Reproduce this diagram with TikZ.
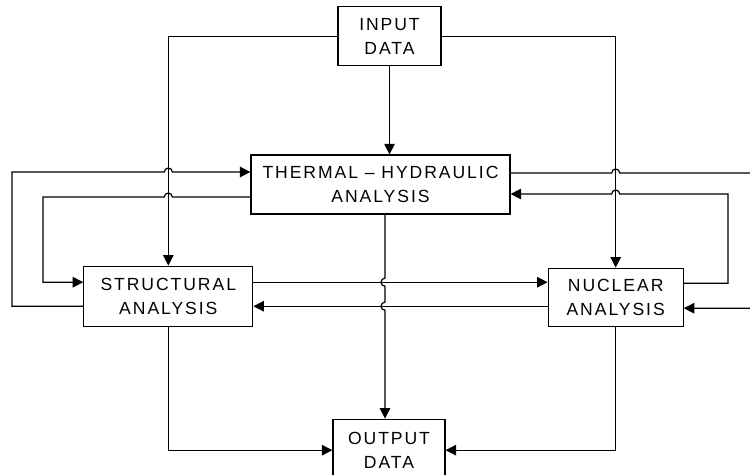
\documentclass[tikz,border=0pt]{standalone}
\usepackage{fontspec}
\usepackage{tikz}
\usetikzlibrary{positioning, arrows.meta, calc}
\newfontfamily\blockfont{Liberation Sans}[LetterSpace=11]

\begin{document}
\begin{tikzpicture}[
  x=0.02cm, y=0.02cm,
  node distance=1cm and 1cm,
  block/.style={
    rectangle, draw=black, line width=0.7pt,
    minimum height=1.18cm, inner sep=2pt,
    font=\blockfont\fontsize{10}{13.6}\selectfont, align=center
  },
  arrow/.style={-{Triangle[length=6pt, width=6pt]}, line width=0.7pt},
]
\useasboundingbox (0,0) rectangle (750,474);

% --- Middle: thermal-hydraulic ---
\node[block, minimum width=5.18cm] (thermal) at (380.5,289.5)
  {THERMAL \textendash{} HYDRAULIC\\ANALYSIS};

% --- Top: input ---
\node[block, minimum width=2.06cm, above=1.76cm of thermal, xshift=0.18cm] (input)
  {INPUT\\DATA};

% --- Row 2: structural and nuclear ---
\node[block, minimum width=3.38cm, minimum height=1.2cm,
      below left=1.02cm and -0.06cm of thermal] (struct)
  {STRUCTURAL\\ANALYSIS};
\node[block, minimum width=2.7cm, minimum height=1.16cm,
      below right=1.06cm and 0.74cm of thermal] (nuclear)
  {NUCLEAR\\ANALYSIS};

% --- Bottom: output ---
\node[block, minimum width=2.24cm, minimum height=1.24cm,
      below=4.08cm of thermal, xshift=0.17cm] (output)
  {OUTPUT\\DATA};

% --- Helper coordinates ---
\coordinate (lo) at (12,0);
\coordinate (li) at (43,0);
\coordinate (ri) at (728,0);
\coordinate (ro) at (756,0);
\coordinate (tw1) at ($(thermal.west)+(0,12.5)$);
\coordinate (tw2) at ($(thermal.west)+(0,-12.5)$);
\coordinate (te1) at ($(thermal.east)+(0,11.5)$);
\coordinate (te2) at ($(thermal.east)+(0,-9.5)$);
\coordinate (sw1) at ($(struct.west)+(0,14)$);
\coordinate (sw2) at ($(struct.west)+(0,-10)$);
\coordinate (sn1) at ($(struct.east)+(0,14)$);
\coordinate (sn2) at ($(struct.east)+(0,-10)$);
\coordinate (ne1) at ($(nuclear.east)+(0,14)$);
\coordinate (ne2) at ($(nuclear.east)+(0,-11)$);
\coordinate (td) at ($(thermal.south)+(4.5,0)$);

% --- Input data ---
\draw[arrow] (input.west) -| (struct.north);
\draw[arrow] (input.east) -| (nuclear.north);
\draw[arrow] (input.south) -- (input.south |- thermal.north);

% --- Structural <-> thermal ---
\draw[arrow] (sw2) -- (sw2 -| lo) -- (tw1 -| lo)
  -- ($(tw1 -| struct.north)+(-4,0)$) arc[start angle=180, end angle=0, radius=4]
  -- (tw1);
\draw[arrow] (tw2)
  -- ($(tw2 -| struct.north)+(4,0)$) arc[start angle=0, end angle=180, radius=4]
  -- (tw2 -| li) -- (sw1 -| li) -- (sw1);

% --- Nuclear <-> thermal ---
\draw[arrow] (te1)
  -- ($(te1 -| nuclear.north)+(-4,0)$) arc[start angle=180, end angle=0, radius=4]
  -- (te1 -| ro) -- (ne2 -| ro) -- (ne2);
\draw[arrow] (ne1) -- (ne1 -| ri) -- (te2 -| ri)
  -- ($(te2 -| nuclear.north)+(4,0)$) arc[start angle=0, end angle=180, radius=4]
  -- (te2);

% --- Structural <-> nuclear ---
\draw[arrow] (sn1) -- (sn1 -| nuclear.west);
\draw[arrow] (sn2 -| nuclear.west) -- (sn2);

% --- Output data ---
\draw[arrow] (td)
  -- ($(td |- sn1)+(0,4)$) arc[start angle=90, end angle=270, radius=4]
  -- ($(td |- sn2)+(0,4)$) arc[start angle=90, end angle=270, radius=4]
  -- (td |- output.north);
\draw[arrow] (struct.south) |- (output.west);
\draw[arrow] (nuclear.south) |- (output.east);

\end{tikzpicture}
\end{document}
